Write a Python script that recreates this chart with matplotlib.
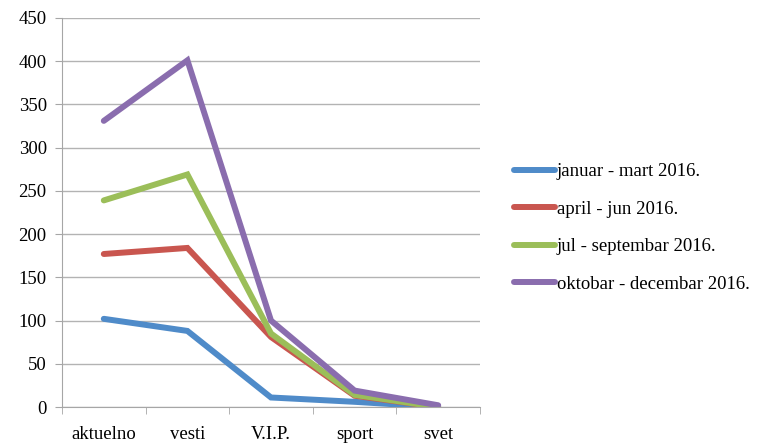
import matplotlib.pyplot as plt

categories = ['aktuelno', 'vesti', 'V.I.P.', 'sport', 'svet']
series_names = ['januar - mart 2016.', 'april - jun 2016.',
                'jul - septembar 2016.', 'oktobar - decembar 2016.']
jan_mar = [102, 88, 11, 6, 0]
apr_jun = [177, 184, 81, 13, 0]
jul_sep = [239, 269, 85, 14, 0]
okt_dec = [331, 401, 100, 19, 2]
colors = ['#4F8BC9', '#C9564F', '#9BBE59', '#8A6DAE']

plt.rcParams['font.family'] = 'Liberation Serif'

fig = plt.figure(figsize=(7.68, 4.43), dpi=100)
ax = fig.add_axes([62 / 768, 36 / 443, 418 / 768, 389 / 443])

x = list(range(len(categories)))
for vals, name, c in zip([jan_mar, apr_jun, jul_sep, okt_dec], series_names, colors):
    ax.plot(x, vals, color=c, lw=4.3, label=name, solid_capstyle='round',
            solid_joinstyle='miter')

ax.set_xlim(-0.5, 4.5)
ax.set_ylim(0, 450)
ax.set_yticks(range(0, 451, 50))
ax.grid(axis='y', color='#b3b3b3', lw=1)
ax.set_axisbelow(True)
for s in ['top', 'right']:
    ax.spines[s].set_visible(False)
ax.spines['left'].set_color('#a6a6a6')
ax.spines['bottom'].set_color('#a6a6a6')

ax.set_xticks(x)
ax.set_xticklabels(categories, fontsize=13.5)
ax.tick_params(axis='x', length=0, pad=14)
ax.set_xticks([i + 0.5 for i in range(-1, 5)], minor=True)
ax.tick_params(axis='x', which='minor', length=5, color='#a6a6a6', direction='out')
ax.tick_params(axis='y', length=5, color='#a6a6a6', labelsize=13.5, pad=6)

ax.legend(loc='center left', bbox_to_anchor=(497 / 768, 215 / 443),
          bbox_transform=fig.transFigure, frameon=False, fontsize=13.5,
          handlelength=2.2, handletextpad=0.1, labelspacing=1.08)

fig.savefig('out.png', dpi=100)
